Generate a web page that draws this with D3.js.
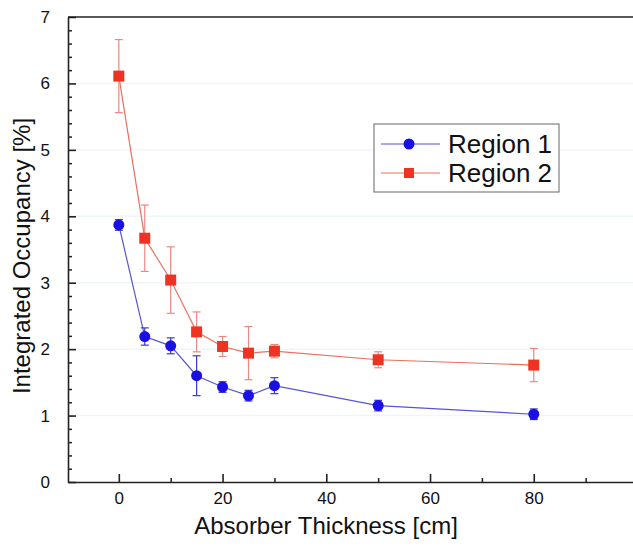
<!DOCTYPE html>
<html>
<head>
<meta charset="utf-8">
<script src="https://cdn.jsdelivr.net/npm/d3@7"></script>
<style>
  body { margin: 0; background: #fff; }
  svg { display: block; font-family: "Liberation Sans", Arial, sans-serif; }
</style>
</head>
<body>
<svg id="chart" width="633" height="549"></svg>
<script>
const thickness = [0, 5, 10, 15, 20, 25, 30, 50, 80];
const region1 = [3.87, 2.19, 2.05, 1.60, 1.43, 1.30, 1.45, 1.15, 1.02];
const region1Err = [0.08, 0.13, 0.12, 0.30, 0.08, 0.08, 0.12, 0.08, 0.08];
const region2 = [6.11, 3.67, 3.04, 2.26, 2.04, 1.94, 1.97, 1.84, 1.76];
const region2Err = [0.55, 0.50, 0.50, 0.30, 0.15, 0.40, 0.10, 0.12, 0.25];
const xTicks = [0, 20, 40, 60, 80];
const xMinor = [10, 30, 50, 70, 90];
const yTicks = [0, 1, 2, 3, 4, 5, 6, 7];
const seriesNames = ["Region 1", "Region 2"];

const svg = d3.select("#chart");

const x = d3.scaleLinear().domain([-9.8, 100]).range([68, 637.5]);
const y = d3.scaleLinear().domain([0, 7]).range([482, 17]);

// faint horizontal bands
svg.append("g")
    .selectAll("line")
    .data(yTicks.slice(1, -1))
    .enter()
    .append("line")
    .attr("x1", x.range()[0])
    .attr("x2", 633)
    .attr("y1", d => y(d))
    .attr("y2", d => y(d))
    .attr("stroke", "#eef6fa")
    .attr("stroke-width", 1.5);

// minor ticks
const yMinor = d3.range(0.2, 7, 0.2).filter(v => Math.abs(v - Math.round(v)) > 0.01);
svg.append("g")
    .attr("transform", `translate(${x.range()[0]},0)`)
    .call(d3.axisLeft(y).tickValues(yMinor).tickFormat("").tickSizeInner(-4).tickSizeOuter(0))
    .call(g => g.select(".domain").remove())
    .selectAll("line").attr("stroke", "#222").attr("stroke-width", 1.5);

svg.append("g")
    .attr("transform", `translate(0,${y.range()[0]})`)
    .call(d3.axisBottom(x).tickValues(xMinor).tickFormat("").tickSizeInner(-4).tickSizeOuter(0))
    .call(g => g.select(".domain").remove())
    .selectAll("line").attr("stroke", "#222").attr("stroke-width", 1.5);

// major axes
const yAxis = svg.append("g")
    .attr("transform", `translate(${x.range()[0]},0)`)
    .call(d3.axisLeft(y).tickValues(yTicks).tickFormat(d3.format("d"))
        .tickSizeInner(-8).tickSizeOuter(0).tickPadding(18));
yAxis.select(".domain").attr("stroke", "#222").attr("stroke-width", 1.6);
yAxis.selectAll(".tick line").attr("stroke", "#222").attr("stroke-width", 1.6);
yAxis.selectAll("text").attr("font-size", 17).attr("fill", "#111")
    .attr("font-family", "Liberation Sans, Arial, sans-serif");

const xAxis = svg.append("g")
    .attr("transform", `translate(0,${y.range()[0]})`)
    .call(d3.axisBottom(x).tickValues(xTicks).tickFormat(d3.format("d"))
        .tickSizeInner(-8).tickSizeOuter(0).tickPadding(10));
xAxis.select(".domain").attr("stroke", "#222").attr("stroke-width", 1.6);
xAxis.selectAll(".tick line").attr("stroke", "#222").attr("stroke-width", 1.6);
xAxis.selectAll("text").attr("font-size", 17).attr("fill", "#111")
    .attr("font-family", "Liberation Sans, Arial, sans-serif");

// top frame
svg.append("line")
    .attr("x1", x.range()[0]).attr("x2", 633)
    .attr("y1", y.range()[1]).attr("y2", y.range()[1])
    .attr("stroke", "#222").attr("stroke-width", 1.6);

// axis titles
svg.append("text")
    .attr("x", 326)
    .attr("y", 534)
    .attr("text-anchor", "middle")
    .attr("font-size", 24)
    .attr("fill", "#111")
    .text("Absorber Thickness [cm]");

svg.append("text")
    .attr("transform", "translate(30,256) rotate(-90)")
    .attr("text-anchor", "middle")
    .attr("font-size", 24)
    .attr("fill", "#111")
    .text("Integrated Occupancy [%]");

const series = [
    { name: seriesNames[0], values: region1, errs: region1Err, line: "#5555d5", err: "#3a3ac8", fill: "#1a10e6", shape: "circle" },
    { name: seriesNames[1], values: region2, errs: region2Err, line: "#e8705f", err: "#e88a84", fill: "#ee3322", shape: "square" }
];

const line = d3.line().x(d => x(d[0])).y(d => y(d[1]));

series.slice().reverse().forEach(function (s) {
    const pts = thickness.map((t, i) => [t, s.values[i], s.errs[i]]);
    const g = svg.append("g");

    g.append("path")
        .datum(pts)
        .attr("d", line)
        .attr("fill", "none")
        .attr("stroke", s.line)
        .attr("stroke-width", 1.2);

    const eb = g.selectAll(".err").data(pts).enter().append("g").attr("class", "err")
        .attr("stroke", s.err).attr("stroke-width", 1.2);
    eb.append("line")
        .attr("x1", d => x(d[0])).attr("x2", d => x(d[0]))
        .attr("y1", d => y(d[1] - d[2])).attr("y2", d => y(d[1] + d[2]));
    eb.append("line")
        .attr("x1", d => x(d[0]) - 4).attr("x2", d => x(d[0]) + 4)
        .attr("y1", d => y(d[1] + d[2])).attr("y2", d => y(d[1] + d[2]));
    eb.append("line")
        .attr("x1", d => x(d[0]) - 4).attr("x2", d => x(d[0]) + 4)
        .attr("y1", d => y(d[1] - d[2])).attr("y2", d => y(d[1] - d[2]));

    if (s.shape === "circle") {
        g.selectAll(".mk").data(pts).enter().append("circle")
            .attr("cx", d => x(d[0])).attr("cy", d => y(d[1]))
            .attr("r", 5.5)
            .attr("fill", s.fill);
    } else {
        g.selectAll(".mk").data(pts).enter().append("rect")
            .attr("x", d => x(d[0]) - 5.5).attr("y", d => y(d[1]) - 5.5)
            .attr("width", 11).attr("height", 11)
            .attr("fill", s.fill);
    }
});

// legend
const legend = svg.append("g").attr("transform", "translate(374,124)");
legend.append("rect")
    .attr("width", 185).attr("height", 68)
    .attr("fill", "#fff")
    .attr("stroke", "#666").attr("stroke-width", 1);

series.forEach(function (s, i) {
    const row = legend.append("g").attr("transform", `translate(0,${20 + i * 29})`);
    row.append("line")
        .attr("x1", 7).attr("x2", 66)
        .attr("stroke", s.line).attr("stroke-width", 1.2);
    if (s.shape === "circle") {
        row.append("circle").attr("cx", 35).attr("r", 5.5).attr("fill", s.fill);
    } else {
        row.append("rect").attr("x", 30).attr("y", -5).attr("width", 10).attr("height", 10).attr("fill", s.fill);
    }
    row.append("text")
        .attr("x", 74)
        .attr("y", 9)
        .attr("font-size", 26)
        .attr("fill", "#111")
        .text(s.name);
});
</script>
</body>
</html>
